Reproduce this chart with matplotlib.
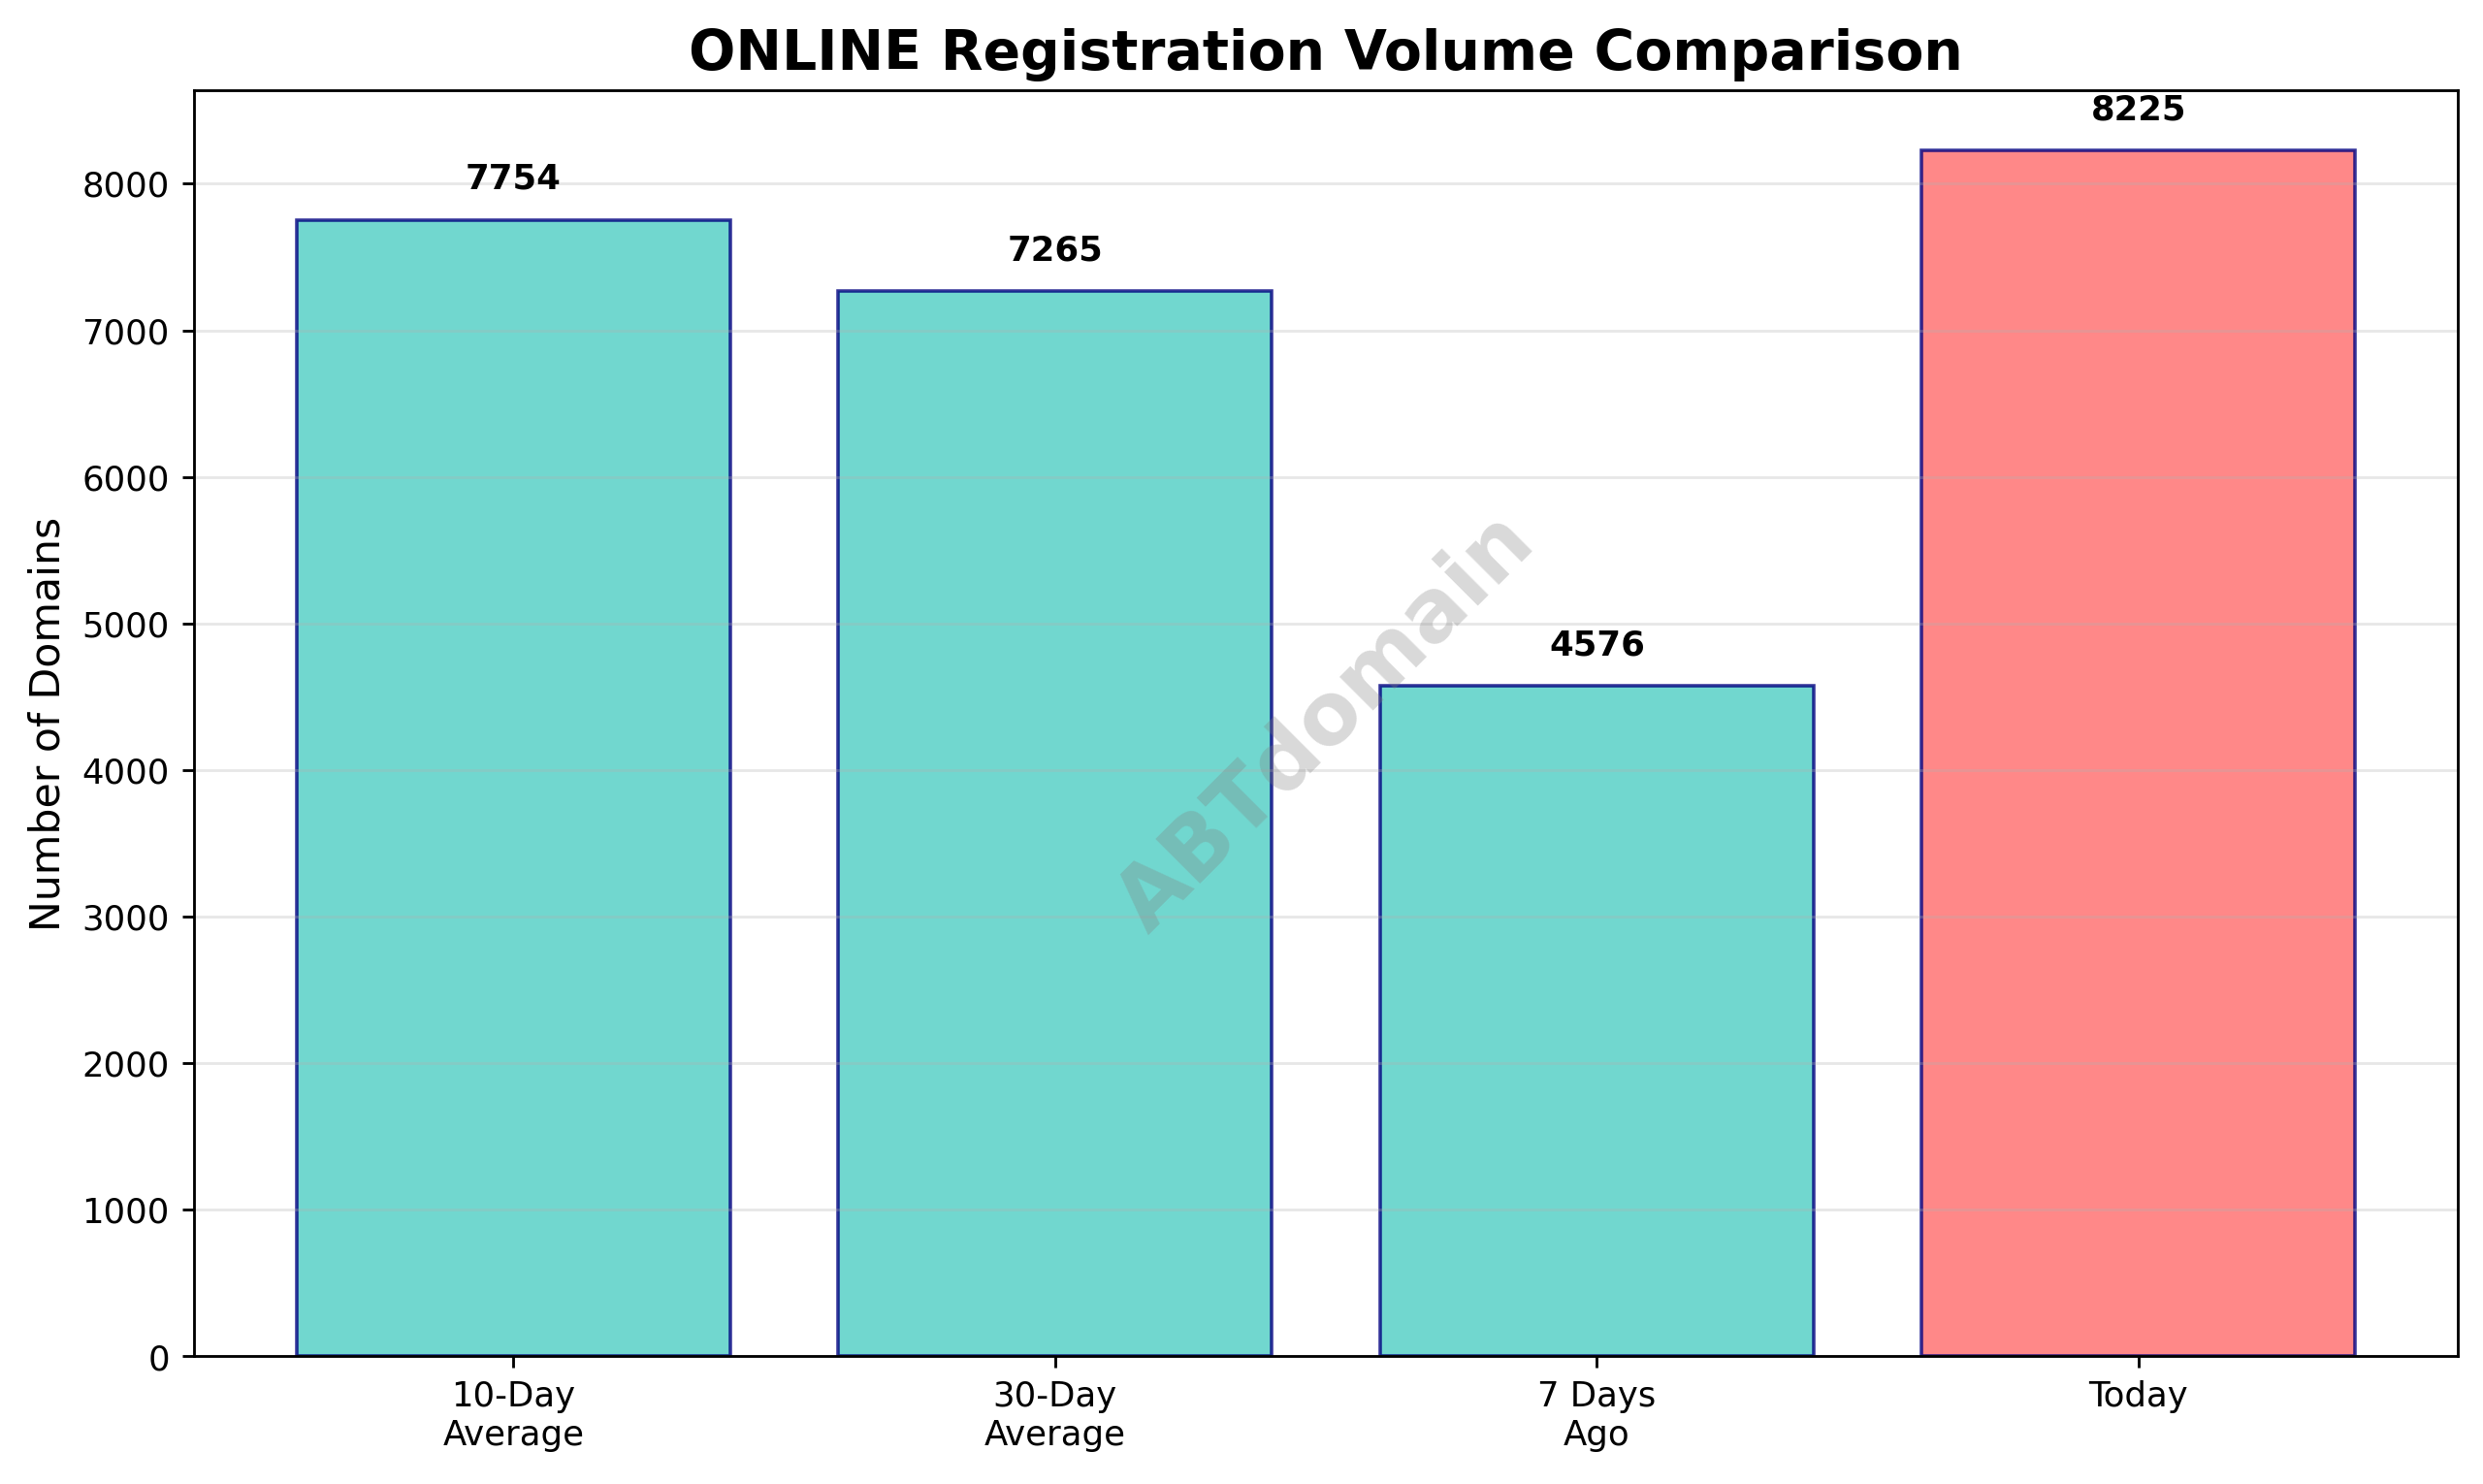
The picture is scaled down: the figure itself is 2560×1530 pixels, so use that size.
import matplotlib
matplotlib.use("Agg")
import matplotlib.pyplot as plt

# data
categories = ["10-Day\nAverage", "30-Day\nAverage", "7 Days\nAgo", "Today"]
volumes = [7754, 7265, 4576, 8225]
bar_colors = ["#4ECDC4", "#4ECDC4", "#4ECDC4", "#FF6B6B"]

fig, ax = plt.subplots(figsize=(10, 5.977), dpi=256)
fig.subplots_adjust(left=0.078, right=0.99, top=0.939, bottom=0.086)

bars = ax.bar(categories, volumes, color=bar_colors, alpha=0.8,
              edgecolor="navy", linewidth=1)

top = max(volumes)
for b, v in zip(bars, volumes):
    ax.text(b.get_x() + b.get_width() / 2, v + top * 0.02, f"{v}",
            ha="center", va="bottom", fontsize=10, fontweight="bold")

ax.set_ylim(0, top * 1.05)
ax.set_title("ONLINE Registration Volume Comparison", fontsize=16, fontweight="bold")
ax.set_ylabel("Number of Domains", fontsize=12)
ax.tick_params(axis="both", labelsize=10)
ax.grid(axis="y", alpha=0.3)

# watermark
ax.text(0.5, 0.5, "ABTdomain", transform=ax.transAxes, fontsize=25,
        fontweight="bold", color="gray", alpha=0.3, rotation=45,
        ha="center", va="center", zorder=10)

plt.savefig("out.png", dpi=256)
